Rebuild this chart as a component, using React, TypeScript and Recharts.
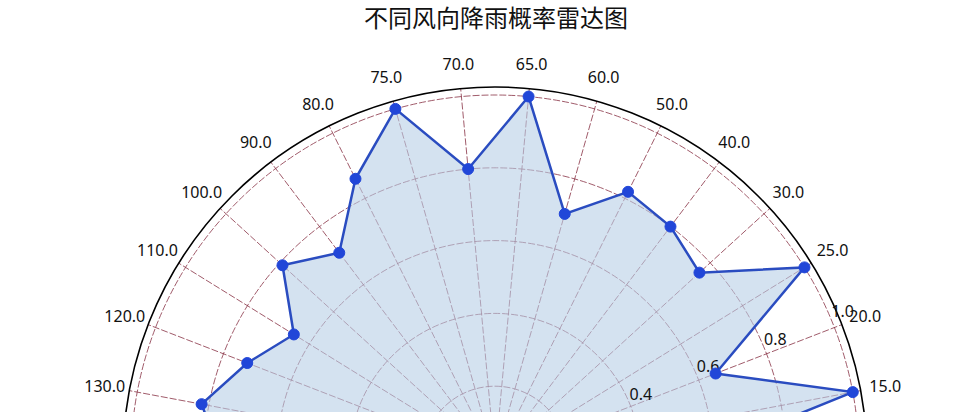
import { PolarAngleAxis, PolarGrid, PolarRadiusAxis, Radar, RadarChart } from "recharts";

// wind directions, counter-clockwise from the right-hand side
const directions = [
  "10.0", "15.0", "20.0", "25.0", "30.0", "40.0", "50.0", "60.0", "65.0",
  "70.0", "75.0", "80.0", "90.0", "100.0", "110.0", "120.0", "130.0",
  "140.0", "150.0", "160.0", "170.0", "180.0", "190.0", "200.0", "210.0",
  "220.0", "230.0", "240.0", "250.0", "260.0", "270.0", "280.0", "300.0", "330.0"
];

const rainProb = [
  0.53, 1.0, 0.65, 1.0, 0.76, 0.8, 0.82, 0.7, 1.0,
  0.8, 1.0, 0.86, 0.71, 0.79, 0.65, 0.73, 0.82,
  0.75, 0.68, 0.72, 0.6, 0.81, 0.77, 0.66, 0.7,
  0.85, 0.74, 0.62, 0.79, 0.69, 0.73, 0.58, 0.76, 0.64
];

const radiusTicks = [0.2, 0.4, 0.6, 0.8, 1.0];
const radiusMax = 1.022;

const chartData = directions.map((d, i) => ({ idx: i, dir: d, prob: rainProb[i] }));
const angleTicks = directions.map((_, i) => i);

const CX = 495;
const CY = 459;
const OUTER = 372;
const LABEL_R = 397;
const FONT = "'Noto Sans', 'DejaVu Sans', sans-serif";

function AngleTick(props: any) {
  const { x, y, payload } = props;
  const dx = x - CX;
  const dy = y - CY;
  const len = Math.hypot(dx, dy) || 1;
  return (
    <text
      x={CX + (dx / len) * LABEL_R}
      y={CY + (dy / len) * LABEL_R}
      textAnchor="middle"
      dominantBaseline="central"
      fontSize={16}
      fontFamily={FONT}
      fill="#111"
    >
      {directions[payload.value]}
    </text>
  );
}

function RadiusTick(props: any) {
  const { x, y, payload } = props;
  return (
    <text x={x} y={y - 3} textAnchor="start" fontSize={16} fontFamily={FONT} fill="#111">
      {Number(payload.value).toFixed(1)}
    </text>
  );
}

export default function App() {
  return (
    <div style={{ position: "relative", width: 967, height: 412, overflow: "hidden", background: "#fff" }}>
      <style>{"body{margin:0}"}</style>
      <div style={{ position: "absolute", top: 0, left: 0 }}>
        <RadarChart
          width={967}
          height={920}
          data={chartData}
          cx={CX}
          cy={CY}
          outerRadius={OUTER}
          startAngle={0}
          endAngle={360}
          margin={{ top: 0, right: 0, bottom: 0, left: 0 }}
        >
          <PolarGrid gridType="circle" stroke="#8a3446" strokeOpacity={0.9} strokeWidth={0.9} strokeDasharray="7 2" />
          <PolarAngleAxis
            dataKey="idx"
            type="number"
            domain={[0, directions.length]}
            ticks={angleTicks}
            axisLineType="circle"
            axisLine={{ stroke: "#000", strokeWidth: 1.6 }}
            tickLine={false}
            tick={<AngleTick />}
          />
          <PolarRadiusAxis
            type="number"
            angle={22.5}
            domain={[0, radiusMax]}
            ticks={radiusTicks}
            axisLine={false}
            tickLine={false}
            tick={<RadiusTick />}
          />
          <Radar
            dataKey="prob"
            stroke="#2a4cc0"
            strokeWidth={2.5}
            fill="#b7cfe6"
            fillOpacity={0.6}
            dot={{ r: 5.5, fill: "#2146d8", fillOpacity: 1, stroke: "#2146d8", strokeWidth: 1 }}
            isAnimationActive={false}
          />
        </RadarChart>
      </div>
      <div
        style={{
          position: "absolute",
          top: 1,
          left: 0,
          width: 992,
          textAlign: "center",
          fontSize: 24,
          lineHeight: "32px",
          fontFamily: "'Noto Sans CJK SC', sans-serif",
          color: "#111",
          pointerEvents: "none"
        }}
      >
        不同风向降雨概率雷达图
      </div>
    </div>
  );
}
